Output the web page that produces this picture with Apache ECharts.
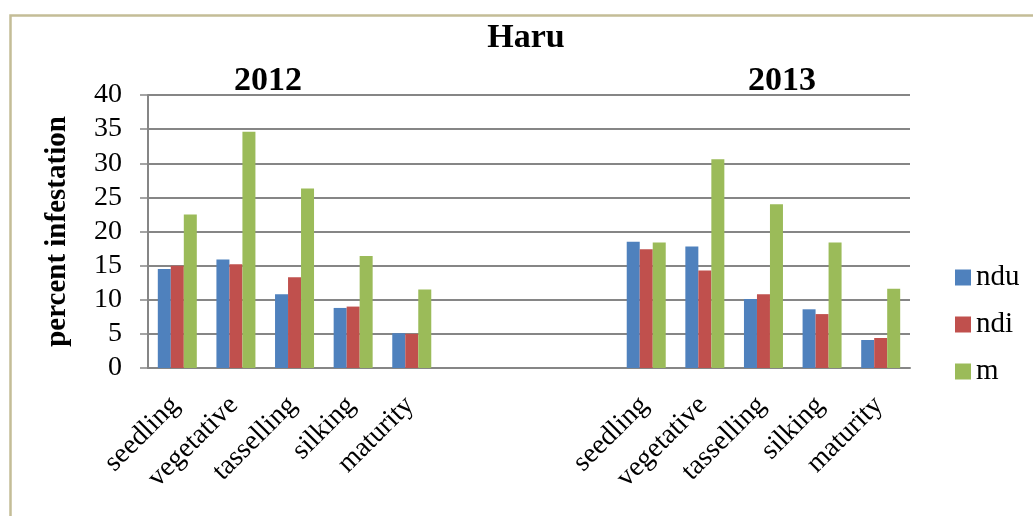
<!DOCTYPE html>
<html>
<head>
<meta charset="utf-8">
<script src="https://cdn.jsdelivr.net/npm/echarts@6/dist/echarts.min.js"></script>
<style>html,body{margin:0;padding:0;background:#fff;}#c{width:1033px;height:516px;}</style>
</head>
<body>
<div id="c"></div>
<script>
var stages = ['seedling', 'vegetative', 'tasselling', 'silking', 'maturity'];
var gapSlots = 3;
var ndu2012 = [14.5, 15.9, 10.8, 8.8, 5.1];
var ndi2012 = [15.0, 15.2, 13.3, 9.0, 5.0];
var m2012   = [22.5, 34.6, 26.3, 16.4, 11.5];
var ndu2013 = [18.5, 17.8, 10.1, 8.6, 4.1];
var ndi2013 = [17.4, 14.3, 10.8, 7.9, 4.4];
var m2013   = [18.4, 30.6, 24.0, 18.4, 11.6];
var yTicks = [0, 40, 5];
var title = 'Haru';
var years = ['2012', '2013'];

function blanks(v) { var a = []; for (var i = 0; i < gapSlots; i++) a.push(v); return a; }
var categories = stages.concat(blanks(''), stages);
function join(a, b) { return a.concat(blanks(null), b); }

var FONT = 'Liberation Serif';
var chart = echarts.init(document.getElementById('c'));
chart.setOption({
  animation: false,
  backgroundColor: '#fff',
  textStyle: { fontFamily: FONT, color: '#000' },
  graphic: [
    { type: 'rect', left: 8, top: 13, shape: { width: 1100, height: 600 }, style: { fill: 'none', stroke: '#C4BD97', lineWidth: 2.5 }, z: -10 },
    { type: 'text', x: 526, y: 38, style: { text: title, font: 'bold 34px "Liberation Serif"', fill: '#000', align: 'center', verticalAlign: 'middle' } },
    { type: 'text', x: 268, y: 81, style: { text: years[0], font: 'bold 34px "Liberation Serif"', fill: '#000', align: 'center', verticalAlign: 'middle' } },
    { type: 'text', x: 782, y: 81, style: { text: years[1], font: 'bold 34px "Liberation Serif"', fill: '#000', align: 'center', verticalAlign: 'middle' } }
  ],
  legend: {
    orient: 'vertical',
    left: 950,
    top: 258,
    icon: 'rect',
    itemWidth: 16,
    itemHeight: 16,
    itemGap: 18,
    itemTextGap: 6,
    textStyle: { fontFamily: FONT, fontSize: 29, color: '#000' },
    data: ['ndu', 'ndi', 'm']
  },
  grid: { left: 148, right: 123, top: 95, bottom: 148, containLabel: false },
  xAxis: {
    type: 'category',
    data: categories,
    axisLine: { show: true, lineStyle: { color: '#868686', width: 2 } },
    axisTick: { show: false },
    axisLabel: { interval: 0, rotate: 45, margin: 31, fontFamily: FONT, fontSize: 28, color: '#000', padding: [0, 3, 0, 0] }
  },
  yAxis: {
    type: 'value',
    min: yTicks[0], max: yTicks[1], interval: yTicks[2],
    name: 'percent infestation',
    nameLocation: 'middle',
    nameGap: 76,
    nameTextStyle: { fontFamily: FONT, fontSize: 29, fontWeight: 'bold', color: '#000' },
    axisLine: { show: true, lineStyle: { color: '#868686', width: 2 } },
    axisTick: { show: true, length: 8, lineStyle: { color: '#868686', width: 1.5 } },
    axisLabel: { margin: 26, fontFamily: FONT, fontSize: 28, color: '#000' },
    splitLine: { show: true, lineStyle: { color: '#868686', width: 2 } }
  },
  series: [
    { name: 'ndu', type: 'bar', data: join(ndu2012, ndu2013), barWidth: 13, barGap: '0%', itemStyle: { color: '#4F81BD' } },
    { name: 'ndi', type: 'bar', data: join(ndi2012, ndi2013), barWidth: 13, barGap: '0%', itemStyle: { color: '#C0504D' } },
    { name: 'm', type: 'bar', data: join(m2012, m2013), barWidth: 13, barGap: '0%', itemStyle: { color: '#9BBB59' } }
  ]
});
</script>
</body>
</html>
